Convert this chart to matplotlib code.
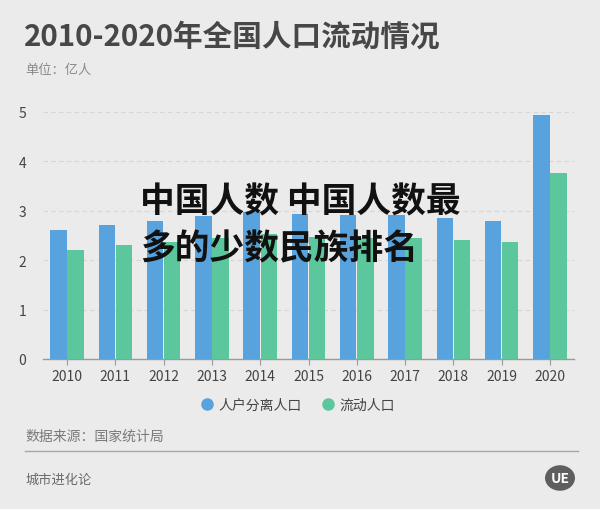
import numpy as np
import matplotlib.pyplot as plt
from matplotlib.patches import Circle
from matplotlib.lines import Line2D

plt.rcParams['font.family'] = ['Noto Sans CJK SC', 'DejaVu Sans']

# =========================================================
# DATA
# =========================================================

years = ["2010", "2011", "2012", "2013", "2014", "2015",
         "2016", "2017", "2018", "2019", "2020"]
separated = [2.61, 2.71, 2.79, 2.89, 2.98, 2.94, 2.92, 2.91, 2.86, 2.80, 4.93]
floating = [2.21, 2.30, 2.36, 2.45, 2.53, 2.47, 2.45, 2.44, 2.41, 2.36, 3.76]
series_names = ["人户分离人口", "流动人口"]
y_ticks = [0, 1, 2, 3, 4, 5]

BG = "#ebebeb"
BLUE = "#58a2dd"
GREEN = "#5cc79c"

W, H = 600, 510

# =========================================================
# FIGURE
# =========================================================

fig = plt.figure(figsize=(6, 5.1), dpi=100, facecolor=BG)

# axes placed in pixel units
ax = fig.add_axes([43 / W, (H - 360) / H, (574 - 43) / W, (360 - 113) / H])
ax.set_facecolor(BG)

x = np.arange(len(years))
bw = 0.34
ax.bar(x - 0.177, separated, bw, color=BLUE, zorder=3)
ax.bar(x + 0.177, floating, bw, color=GREEN, zorder=3)

ax.set_xlim(-0.5, len(years) - 0.5)
ax.set_ylim(0, 5)
ax.set_xticks(x)
ax.set_xticklabels(years)
ax.set_yticks(y_ticks)
ax.set_yticklabels([str(v) for v in y_ticks])

for s in ["top", "right", "left"]:
    ax.spines[s].set_visible(False)
ax.spines["bottom"].set_color("#9a9a9a")
ax.spines["bottom"].set_linewidth(1)

ax.tick_params(axis="x", length=4, color="#9a9a9a", labelsize=10,
               labelcolor="#444444", pad=3)
ax.tick_params(axis="y", length=0, labelsize=10, labelcolor="#444444", pad=12)

ax.yaxis.grid(True, linestyle=(0, (4, 3)), color="#d6d6d6", linewidth=0.8, zorder=0)
ax.set_axisbelow(True)

# =========================================================
# TEXTS
# =========================================================

fig.text(24 / W, 1 - 37 / H, "2010-2020年全国人口流动情况", fontsize=21.3,
         color="#474747", va="center", ha="left", fontweight="bold")
fig.text(25 / W, 1 - 70 / H, "单位：亿人", fontsize=9.5, color="#8a8a8a",
         va="center", ha="left")

# legend
leg_handles = [
    Line2D([0], [0], marker="o", color="none", markerfacecolor=BLUE,
           markeredgecolor=BLUE, markersize=8),
    Line2D([0], [0], marker="o", color="none", markerfacecolor=GREEN,
           markeredgecolor=GREEN, markersize=8),
]
fig.legend(leg_handles, series_names, loc="center",
           bbox_to_anchor=(297 / W, 1 - 406 / H), ncol=2, frameon=False,
           fontsize=10, labelcolor="#444444", handletextpad=0.2,
           columnspacing=1.3, handlelength=1.2)

fig.text(25 / W, 1 - 437 / H, "数据来源：国家统计局", fontsize=10,
         color="#7a7a7a", va="center", ha="left")
fig.add_artist(Line2D([25 / W, 578 / W], [1 - 452 / H, 1 - 452 / H],
                      color="#a8a8a8", linewidth=1))
fig.text(25 / W, 1 - 480 / H, "城市进化论", fontsize=9.5, color="#6a6a6a",
         va="center", ha="left")

# logo circle
fig.add_artist(Circle((560 / W, 1 - 479 / H), 15 / W, transform=fig.transFigure,
                      facecolor="#5e5e5e", edgecolor="none"))
fig.text(560 / W, 1 - 479 / H, "UE", fontsize=10, color="white",
         fontweight="bold", ha="center", va="center")

# overlay text
fig.text(140 / W, 1 - 202 / H, "中国人数 中国人数最", fontsize=25,
         fontweight="heavy", color="#111111", ha="left", va="center")
fig.text(140 / W, 1 - 249 / H, "多的少数民族排名", fontsize=25,
         fontweight="heavy", color="#111111", ha="left", va="center")

plt.savefig("out.png", dpi=100, facecolor=BG)
